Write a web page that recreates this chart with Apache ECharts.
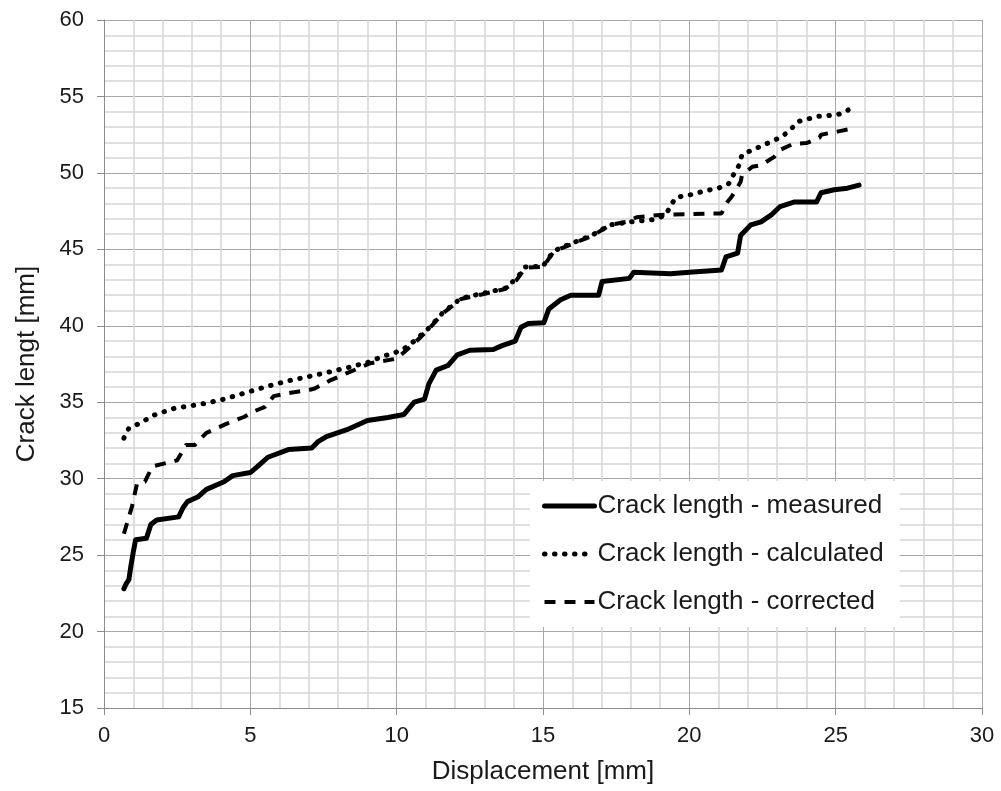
<!DOCTYPE html>
<html>
<head>
<meta charset="utf-8">
<script src="https://cdn.jsdelivr.net/npm/echarts@6/dist/echarts.min.js"></script>
<style>
  html, body { margin: 0; padding: 0; background: #fff; }
  #chart { width: 1001px; height: 791px; }
</style>
</head>
<body>
<div id="chart"></div>
<script>
// displacement [mm], crack length [mm]
const measured = [
    [0.68, 22.8], [0.75, 23.1], [0.85, 23.4], [0.92, 24.3], [1.0, 25.2], [1.08, 26.0],
    [1.45, 26.1], [1.6, 27.0], [1.8, 27.3], [2.55, 27.5], [2.7, 28.1], [2.85, 28.5],
    [3.2, 28.8], [3.5, 29.3], [4.1, 29.8], [4.4, 30.2], [5.0, 30.4], [5.25, 30.8],
    [5.6, 31.4], [6.3, 31.9], [7.1, 32.0], [7.3, 32.4], [7.6, 32.75], [8.3, 33.2],
    [9.0, 33.8], [9.7, 34.0], [10.25, 34.2], [10.6, 35.0], [10.95, 35.2], [11.1, 36.2],
    [11.35, 37.1], [11.75, 37.4], [12.07, 38.1], [12.5, 38.4], [13.3, 38.45], [13.6, 38.7],
    [14.05, 39.0], [14.25, 39.9], [14.5, 40.15], [15.03, 40.2], [15.2, 41.1], [15.6, 41.7],
    [15.95, 42.0], [16.9, 42.0], [17.02, 42.9], [17.95, 43.1], [18.1, 43.5], [19.35, 43.4],
    [20.0, 43.5], [21.1, 43.65], [21.25, 44.5], [21.65, 44.75], [21.75, 45.9], [22.1, 46.6],
    [22.45, 46.8], [22.8, 47.25], [23.1, 47.8], [23.6, 48.1], [24.35, 48.1], [24.5, 48.7],
    [24.95, 48.9], [25.4, 49.0], [25.8, 49.2]
];
const calculated = [
    [0.68, 32.65], [0.85, 33.3], [1.2, 33.6], [1.7, 34.15], [2.4, 34.6], [3.4, 34.9],
    [4.1, 35.2], [4.8, 35.6], [5.6, 36.05], [6.3, 36.4], [7.05, 36.7], [7.75, 37.0],
    [8.4, 37.3], [9.1, 37.65], [9.5, 38.0], [9.9, 38.2], [10.25, 38.5], [10.6, 39.0],
    [11.1, 39.85], [11.6, 40.9], [12.2, 41.8], [12.9, 42.1], [13.7, 42.45], [14.1, 43.1],
    [14.4, 43.85], [15.0, 43.9], [15.35, 44.85], [15.6, 45.1], [16.0, 45.4], [16.7, 45.95],
    [17.3, 46.6], [18.0, 46.8], [18.8, 46.95], [19.2, 47.25], [19.35, 47.85], [19.55, 48.4],
    [20.0, 48.55], [20.6, 48.85], [21.0, 49.0], [21.35, 49.3], [21.5, 49.85], [21.7, 50.5],
    [21.8, 51.2], [22.45, 51.75], [23.15, 52.35], [23.45, 52.8], [23.7, 53.35], [24.4, 53.7],
    [25.05, 53.8], [25.35, 54.0], [25.65, 54.45]
];
const corrected = [
    [0.68, 26.4], [0.96, 28.2], [1.13, 29.7], [1.4, 29.8], [1.65, 30.8], [2.5, 31.2],
    [2.8, 32.2], [3.1, 32.2], [3.5, 33.0], [4.2, 33.6], [4.8, 34.05], [5.0, 34.3],
    [5.5, 34.7], [5.8, 35.4], [6.3, 35.6], [7.0, 35.8], [7.2, 35.9], [7.75, 36.45],
    [8.3, 36.9], [9.1, 37.55], [10.0, 37.85], [10.6, 38.85], [11.1, 39.8], [11.6, 40.85],
    [12.2, 41.75], [12.9, 42.05], [13.7, 42.4], [14.1, 43.0], [14.4, 43.8], [15.0, 43.85],
    [15.35, 44.8], [15.6, 45.05], [16.0, 45.35], [16.7, 45.9], [17.3, 46.6], [17.85, 46.8],
    [18.2, 47.1], [19.0, 47.25], [19.9, 47.3], [21.1, 47.35], [21.3, 48.1], [21.45, 48.45],
    [21.75, 49.4], [21.8, 49.85], [22.15, 50.4], [22.45, 50.5], [22.9, 51.05], [23.1, 51.5],
    [23.55, 51.9], [24.0, 51.95], [24.45, 52.3], [24.5, 52.5], [25.05, 52.7], [25.45, 52.85]
];
const seriesNames = ['Crack length - measured', 'Crack length - calculated', 'Crack length - corrected'];

const font = 'Liberation Sans, Arial, sans-serif';
const textColor = '#1a1a1a';

const measuredLine = { color: '#000', width: 5, join: 'round', cap: 'round' };
const calculatedLine = { color: '#000', width: 5, type: [0.5, 9.5], cap: 'round' };
const correctedLine = { color: '#000', width: 4, type: [11, 9], cap: 'butt' };

const chart = echarts.init(document.getElementById('chart'));

function axis(min, max, name, extra) {
    return Object.assign({
        type: 'value',
        min: min,
        max: max,
        interval: 5,
        name: name,
        nameLocation: 'middle',
        nameMoveOverlap: false,
        nameTextStyle: { fontFamily: font, fontSize: 26, color: textColor },
        axisLine: { show: true, lineStyle: { color: '#8c8c8c', width: 1 } },
        axisTick: { show: true, length: 7, lineStyle: { color: '#8c8c8c' } },
        splitLine: { show: true, lineStyle: { color: '#a8a8a8', width: 1 } },
        minorTick: { show: false, splitNumber: 5 },
        minorSplitLine: { show: true, lineStyle: { color: '#d6d6d6', width: 1.5 } }
    }, extra);
}

chart.setOption({
    backgroundColor: '#fff',
    animation: false,
    grid: { left: 104, right: 19, top: 20, bottom: 83 },
    xAxis: axis(0, 30, 'Displacement [mm]', {
        nameGap: 51,
        axisLabel: { fontFamily: font, fontSize: 22, color: textColor, margin: 17 }
    }),
    yAxis: axis(15, 60, 'Crack lengt [mm]', {
        nameGap: 64,
        axisLabel: { fontFamily: font, fontSize: 22, color: textColor, margin: 20 }
    }),
    legend: {
        orient: 'vertical',
        left: 530,
        top: 481,
        backgroundColor: '#fff',
        padding: [12, 16, 12, 12],
        itemWidth: 50,
        itemHeight: 18,
        itemGap: 22,
        itemStyle: { opacity: 0 },
        textStyle: { fontFamily: font, fontSize: 26, color: textColor, padding: [0, 0, 0, -2] },
        data: [
            { name: seriesNames[0], lineStyle: measuredLine },
            { name: seriesNames[1], lineStyle: calculatedLine },
            { name: seriesNames[2], lineStyle: correctedLine }
        ]
    },
    series: [
        {
            name: seriesNames[0],
            type: 'line',
            data: measured,
            showSymbol: false,
            symbol: 'none',
            itemStyle: { color: '#000' },
            lineStyle: measuredLine,
            z: 3
        },
        {
            name: seriesNames[1],
            type: 'line',
            data: calculated,
            showSymbol: false,
            symbol: 'none',
            itemStyle: { color: '#000' },
            lineStyle: calculatedLine,
            z: 2
        },
        {
            name: seriesNames[2],
            type: 'line',
            data: corrected,
            showSymbol: false,
            symbol: 'none',
            itemStyle: { color: '#000' },
            lineStyle: correctedLine,
            z: 2
        }
    ]
});
</script>
</body>
</html>
